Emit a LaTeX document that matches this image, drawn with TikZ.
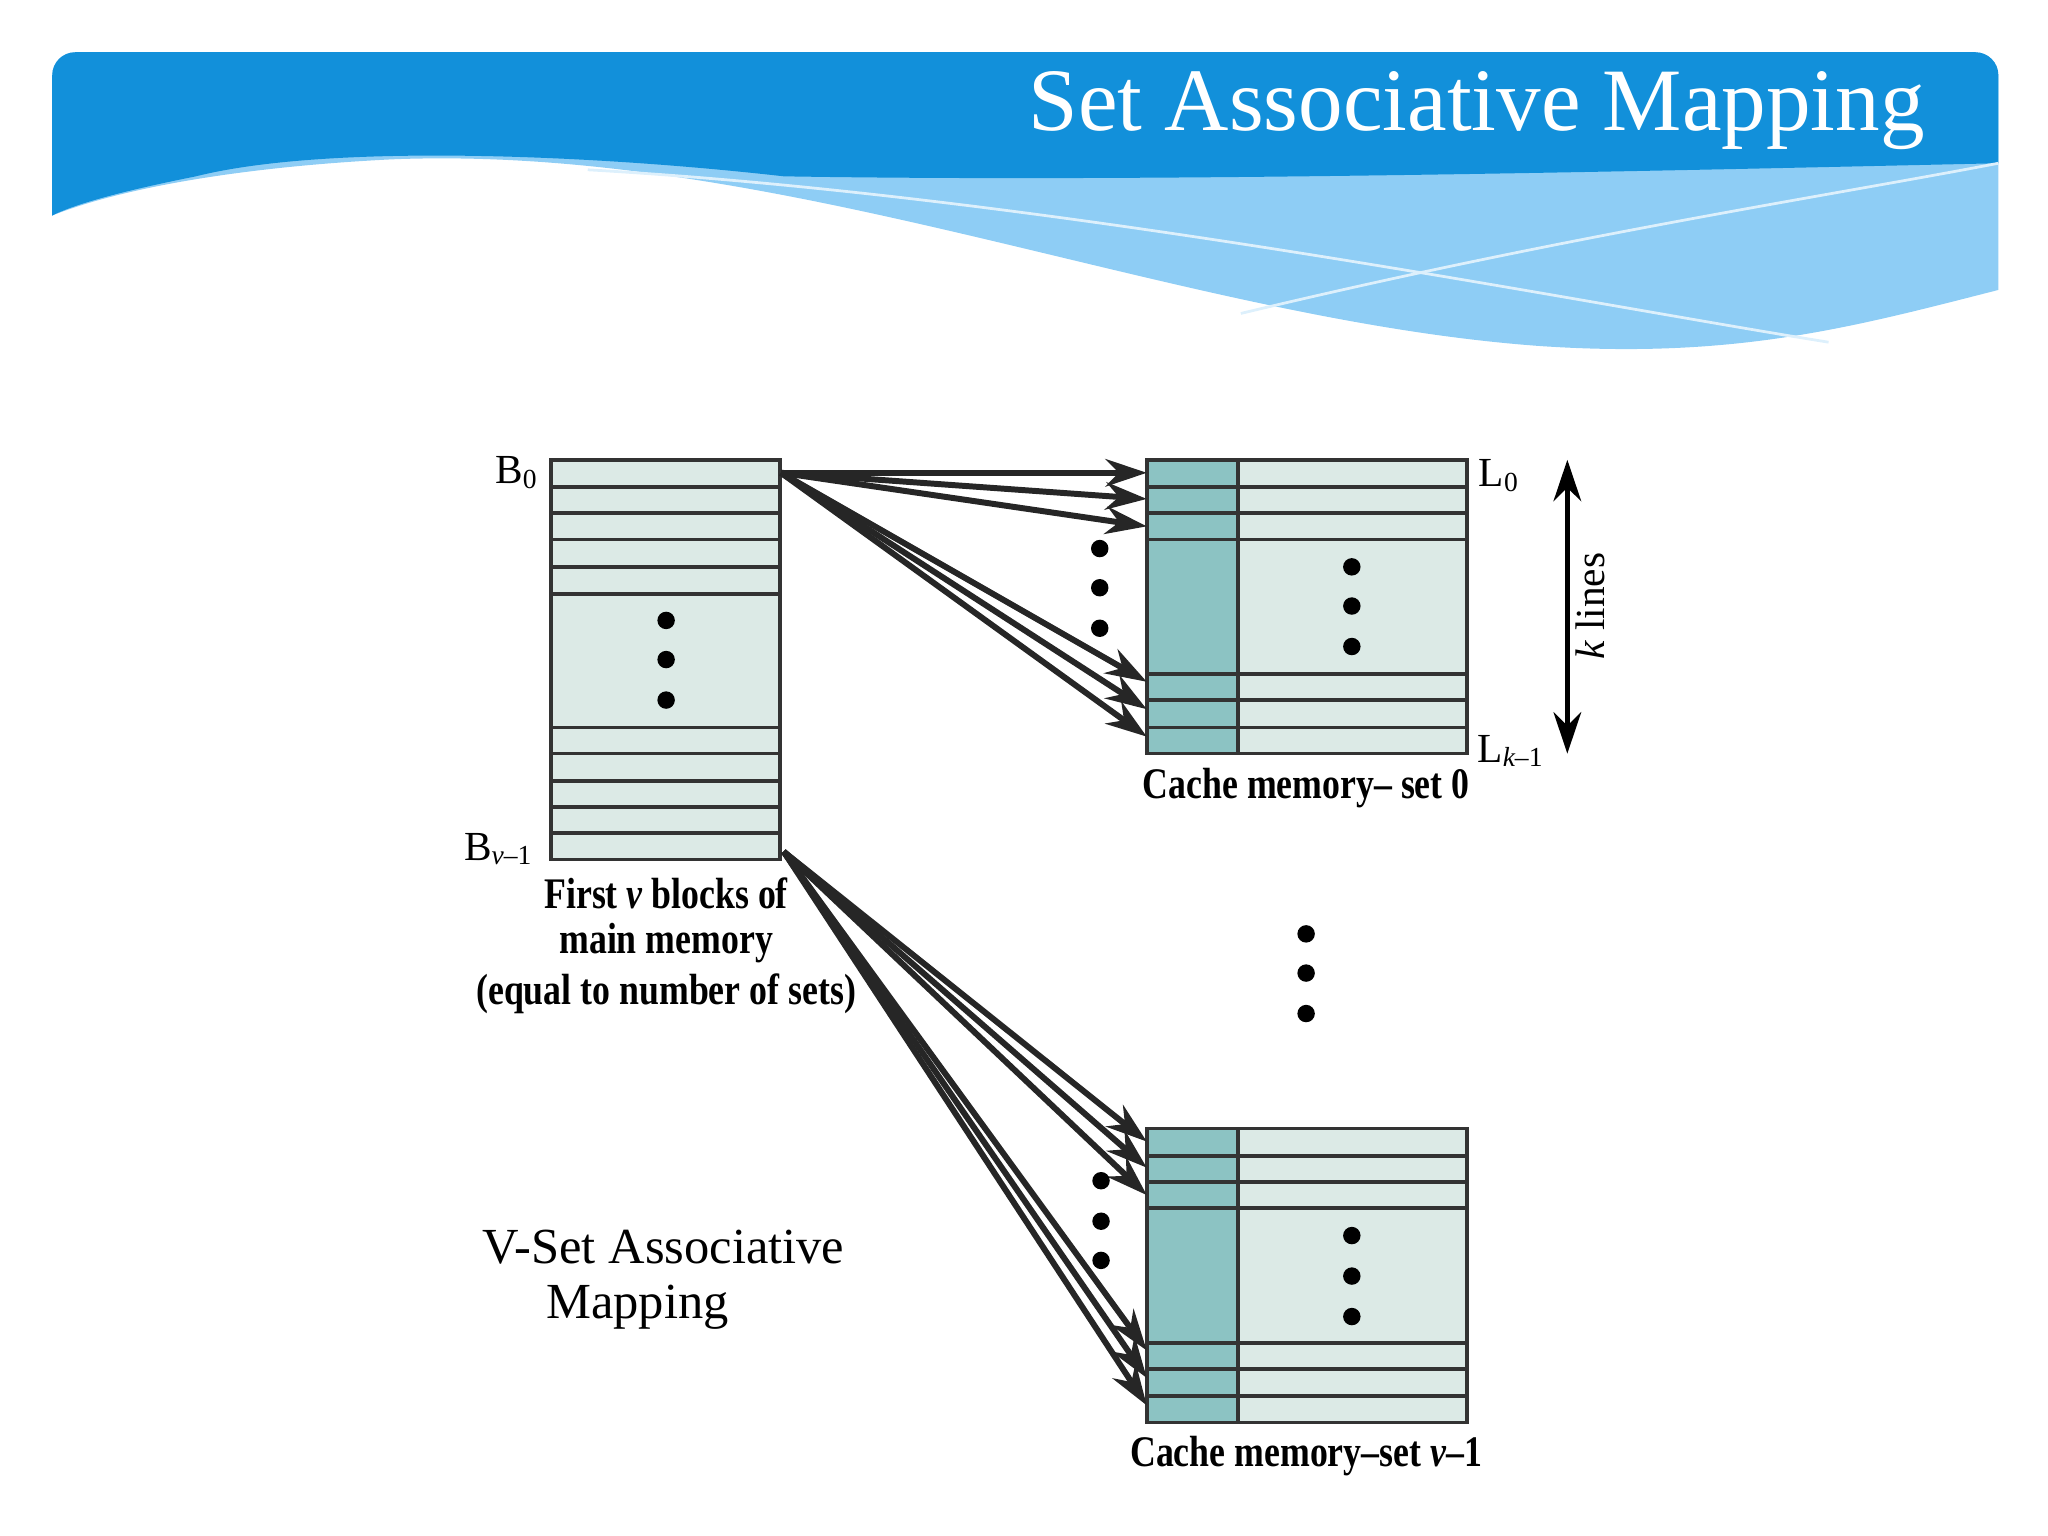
\documentclass[tikz,border=0pt]{standalone}
\usepackage{fontspec}
\setmainfont{Liberation Serif}
\usetikzlibrary{arrows.meta}
\definecolor{cellbg}{HTML}{DCEAE6}
\definecolor{tagbg}{HTML}{8CC3C3}
\definecolor{hdrdark}{HTML}{1290DA}
\definecolor{hdrlight}{HTML}{8ECDF5}
\tikzset{
  cell/.style={draw=black!80, line width=0.8pt},
  arr/.style={-{Stealth[length=9pt,width=6pt]}, line width=1.3pt, black!85},
  dot/.style={circle, fill=black, inner sep=0pt, minimum size=3.8pt},
  captxt/.style={font=\fontsize{9.5}{11}\selectfont\bfseries, inner sep=0pt, xscale=0.82},
  lbl/.style={font=\fontsize{9}{10}\selectfont, inner sep=0pt}
}
\begin{document}
\begin{tikzpicture}[x=0.01cm,y=-0.01cm]
\useasboundingbox (0,0) rectangle (1568,1176);
% header
\fill[hdrlight] (40,165) [rounded corners=5pt] -- (40,40) -- (1530,40) [sharp corners] -- (1530,222)
  .. controls (1420,250) and (1330,275) .. (1180,265) .. controls (900,245) and (600,110) .. (300,122) .. controls (180,128) and (90,145) .. (40,165) -- cycle;
\fill[hdrdark] (40,165) [rounded corners=5pt] -- (40,40) -- (1530,40) [sharp corners] -- (1530,125)
  .. controls (1300,130) and (900,140) .. (600,135) .. controls (450,118) and (250,110) .. (150,135) .. controls (100,145) and (60,155) .. (40,165) -- cycle;
\draw[white!70!hdrlight, line width=0.6pt] (450,130) .. controls (800,150) and (1200,230) .. (1400,262);
\draw[white!70!hdrlight, line width=0.6pt] (950,240) .. controls (1200,180) and (1400,150) .. (1530,125);
\node[text=white, anchor=east, font=\fontsize{19.4}{22}\selectfont] (title) at (1486,85) {Set Associative Mapping};

% main memory
\fill[cellbg] (422,352) rectangle (597,658);
\foreach \a/\b in {352/373,373/393,393/413,413/434,434/455,455/557,557/577,577/598,598/618,618/638,638/658}
  \draw[cell] (422,\a) rectangle (597,\b);
\node[dot] (m1) at (510,475) {};
\node[dot] (m2) at (510,505) {};
\node[dot] (m3) at (510,536) {};
\coordinate (mt) at (598,362);
\coordinate (mb) at (600,652);

% cache sets
\foreach \n/\y in {c/352, d/864}{
  \fill[cellbg] (878,\y) rectangle (1123,\y+225);
  \fill[tagbg] (878,\y) rectangle (948,\y+225);
  \foreach \a/\b in {0/21,21/41,41/61,61/164,164/184,184/205,205/225}{
    \draw[cell] (878,\y+\a) rectangle (948,\y+\b);
    \draw[cell] (948,\y+\a) rectangle (1123,\y+\b);
  }
  \coordinate (\n0) at (878,\y+10);
  \coordinate (\n1) at (878,\y+30);
  \coordinate (\n2) at (878,\y+51);
  \coordinate (\n3) at (878,\y+170);
  \coordinate (\n4) at (878,\y+191);
  \coordinate (\n5) at (878,\y+212);
}
\foreach \i in {0,...,5} \draw[arr] (mt) -- (c\i);
\foreach \i in {0,...,5} \draw[arr] (mb) -- (d\i);

\foreach \y in {434,464,495} \node[dot] at (1035,\y) {};
\foreach \y in {420,450,481} \node[dot] at (842,\y) {};
\foreach \y in {715,745,776} \node[dot] at (1000,\y) {};
\foreach \y in {904,935,965} \node[dot] at (843,\y) {};
\foreach \y in {946,977,1008} \node[dot] at (1035,\y) {};

% labels
\node[lbl] (b0) at (396,362) {B\textsubscript{0}};
\node[lbl] (bv) at (382,650) {B\textsubscript{\itshape v\upshape--1}};
\node[lbl] (l0) at (1148,364) {L\textsubscript{0}};
\node[lbl] (lk) at (1157,575) {L\textsubscript{\itshape k\upshape--1}};
\coordinate (kt) at (1200,352);
\coordinate (kb) at (1200,577);
\draw[{Stealth[length=9pt,width=6pt]}-{Stealth[length=9pt,width=6pt]}, line width=1.2pt] (kt) -- (kb);
\node[lbl, rotate=90] (kl) at (1218,464) {\itshape k\upshape\ lines};
\node[captxt] (cs0) at (1000,603) {Cache memory-- set 0};
\node[captxt] (cs1) at (1000,1115) {Cache memory--set \itshape v\upshape--1};
\node[captxt] (mm1) at (510,684) {First \itshape v\upshape\ blocks of};
\node[captxt] (mm2) at (510,722) {main memory};
\node[captxt] (mm3) at (510,761) {(equal to number of sets)};
\node[font=\fontsize{11}{13}\selectfont, inner sep=0pt] (vs1) at (508,955) {V-Set Associative};
\node[font=\fontsize{11}{13}\selectfont, inner sep=0pt] (vs2) at (488,1001) {Mapping};
\end{tikzpicture}
\end{document}
